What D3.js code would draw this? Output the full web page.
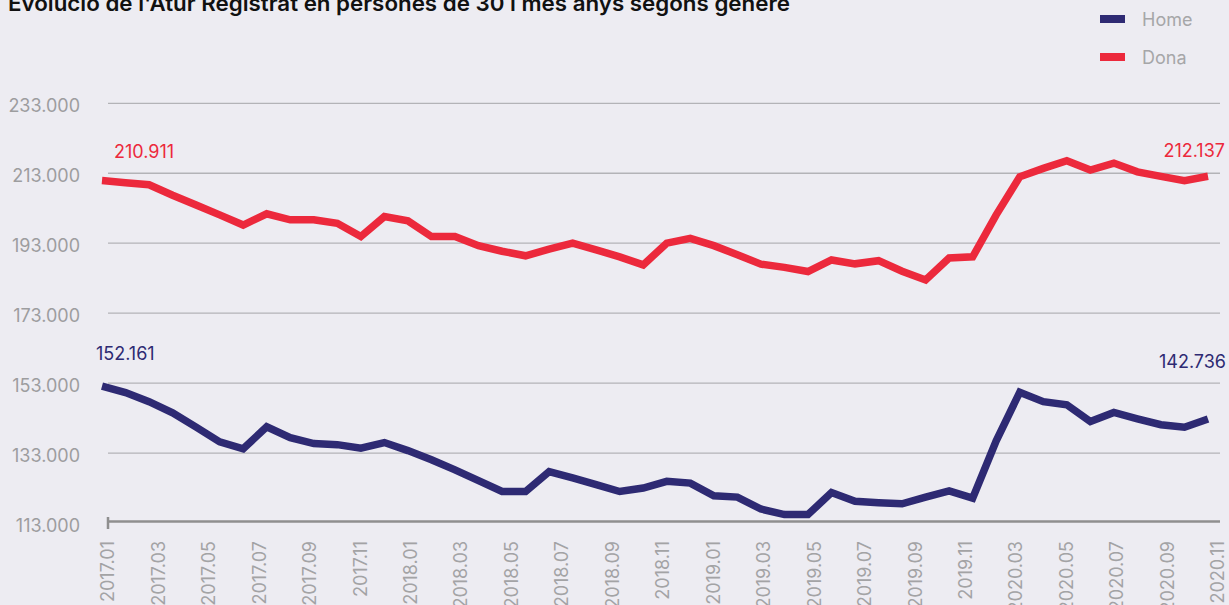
<!DOCTYPE html>
<html>
<head>
<meta charset="utf-8">
<script src="https://cdn.jsdelivr.net/npm/d3@7"></script>
<style>
  body { margin: 0; background: #edecf2; }
  svg { display: block; font-family: Inter, "Noto Sans", sans-serif; }
</style>
</head>
<body>
<script>
// Evolució de l'atur registrat, 30 i més anys, per gènere
const w = 1229;
const h = 605;

const months = [
  "2017.01", "2017.02", "2017.03", "2017.04", "2017.05", "2017.06", "2017.07", "2017.08", "2017.09", "2017.10", "2017.11", "2017.12",
  "2018.01", "2018.02", "2018.03", "2018.04", "2018.05", "2018.06", "2018.07", "2018.08", "2018.09", "2018.10", "2018.11", "2018.12",
  "2019.01", "2019.02", "2019.03", "2019.04", "2019.05", "2019.06", "2019.07", "2019.08", "2019.09", "2019.10", "2019.11", "2019.12",
  "2020.01", "2020.02", "2020.03", "2020.04", "2020.05", "2020.06", "2020.07", "2020.08", "2020.09", "2020.10", "2020.11", "2020.12"
];

const home = [152161, 150300, 147700, 144500, 140400, 136200, 134200, 140500, 137400, 135700, 135400, 134400,
  136000, 133700, 131100, 128200, 125100, 122000, 122000, 127700, 125900, 124000, 122000, 123000,
  124900, 124400, 120800, 120400, 117000, 115400, 115400, 121700, 119200, 118800, 118500, 120400,
  122200, 120100, 136500, 150400, 147700, 146800, 142000, 144600, 142800, 141100, 140400, 142736];

const dona = [210911, 210300, 209700, 206700, 203900, 201100, 198200, 201400, 199700, 199700, 198700, 194900,
  200600, 199400, 194900, 194900, 192300, 190700, 189400, 191300, 193000, 191100, 189100, 186800,
  193000, 194400, 192300, 189700, 187000, 186100, 184900, 188200, 187100, 188000, 185000, 182500,
  188800, 189100, 201100, 212000, 214400, 216600, 213900, 215900, 213400, 212100, 210900, 212137];

// etiquetes de l'eix x tal com surten al gràfic
const xLabels = ["2017.01", "2017.03", "2017.05", "2017.07", "2017.09", "2017.11",
  "2018.01", "2018.03", "2018.05", "2018.07", "2018.09", "2018.11",
  "2019.01", "2019.03", "2019.05", "2019.07", "2019.09", "2019.11",
  "2020.03", "2020.05", "2020.07", "2020.09", "2020.11"];

const yTicks = [113000, 133000, 153000, 173000, 193000, 213000, 233000];

const series = [
  { name: "Home", values: home, color: "#2e2a73" },
  { name: "Dona", values: dona, color: "#ec293c" }
];

const loc = d3.formatLocale({ decimal: ",", thousands: ".", grouping: [3], currency: ["", "€"] });
const fmt = loc.format(",d");

const svg = d3.select("body").append("svg")
  .attr("width", w)
  .attr("height", h);

const x = d3.scalePoint().domain(months).range([102, 1208]);
const xl = d3.scalePoint().domain(xLabels).range([108, 1218]);
const y = d3.scaleLinear().domain([113000, 233000]).range([523, 103.3]);

// títol (tallat a dalt)
svg.append("text")
  .attr("x", 8)
  .attr("y", 11)
  .attr("font-size", "22px")
  .attr("font-weight", 600)
  .attr("fill", "#111")
  .attr("textLength", 782)
  .attr("lengthAdjust", "spacingAndGlyphs")
  .text("Evolució de l'Atur Registrat en persones de 30 i més anys segons gènere");

// graella
svg.append("g")
  .selectAll("line")
  .data(yTicks.filter(d => d !== 113000))
  .enter()
  .append("line")
  .attr("x1", 108)
  .attr("x2", 1220)
  .attr("y1", d => y(d))
  .attr("y2", d => y(d))
  .attr("stroke", "#b3b3b7")
  .attr("stroke-width", 1.3);

// eix inferior
svg.append("line")
  .attr("x1", 108).attr("x2", 1220)
  .attr("y1", y(113000) - 1.5).attr("y2", y(113000) - 1.5)
  .attr("stroke", "#8f8f8f")
  .attr("stroke-width", 2.5);
svg.append("line")
  .attr("x1", 108).attr("x2", 108)
  .attr("y1", y(113000) - 6).attr("y2", y(113000) + 6)
  .attr("stroke", "#8f8f8f")
  .attr("stroke-width", 2.5);

// etiquetes y
svg.append("g")
  .selectAll("text")
  .data(yTicks)
  .enter()
  .append("text")
  .attr("x", 80)
  .attr("y", d => y(d) + 8.5)
  .attr("text-anchor", "end")
  .attr("font-size", "18px")
  .attr("fill", "#9d9d9f")
  .text(d => fmt(d));

// etiquetes x
svg.append("g")
  .selectAll("text")
  .data(xLabels)
  .enter()
  .append("text")
  .attr("transform", d => "translate(" + xl(d) + ",541) rotate(-90)")
  .attr("dy", "0.35em")
  .attr("text-anchor", "end")
  .attr("font-size", "18px")
  .attr("fill", "#a3a3a5")
  .text(d => d);

// línies
const line = d3.line()
  .x((d, i) => x(months[i]))
  .y(d => y(d));

svg.selectAll("path.serie")
  .data(series)
  .enter()
  .append("path")
  .attr("class", "serie")
  .attr("d", d => line(d.values))
  .attr("fill", "none")
  .attr("stroke", d => d.color)
  .attr("stroke-width", 7.5)
  .attr("stroke-linejoin", "miter");

// valors inicial i final
const last = months.length - 1;
const notes = [
  { v: dona[0], m: months[0], dx: 12, dy: -23, anchor: "start", color: "#ec293c" },
  { v: dona[last], m: months[last], dx: 17, dy: -19, anchor: "end", color: "#ec293c" },
  { v: home[0], m: months[0], dx: -6, dy: -26, anchor: "start", color: "#2e2a73" },
  { v: home[last], m: months[last], dx: 18, dy: -51, anchor: "end", color: "#2e2a73" }
];

svg.selectAll("text.nota")
  .data(notes)
  .enter()
  .append("text")
  .attr("class", "nota")
  .attr("x", d => x(d.m) + d.dx)
  .attr("y", d => y(d.v) + d.dy)
  .attr("text-anchor", d => d.anchor)
  .attr("font-size", "18px")
  .attr("fill", d => d.color)
  .text(d => fmt(d.v));

// llegenda
const leg = svg.append("g")
  .selectAll("g")
  .data(series)
  .enter()
  .append("g")
  .attr("transform", (d, i) => "translate(1100," + (15 + i * 38) + ")");

leg.append("rect")
  .attr("width", 25)
  .attr("height", 8)
  .attr("fill", d => d.color);

leg.append("text")
  .attr("x", 42)
  .attr("y", 11)
  .attr("font-size", "18px")
  .attr("fill", "#a6a6a8")
  .text(d => d.name);
</script>
</body>
</html>
